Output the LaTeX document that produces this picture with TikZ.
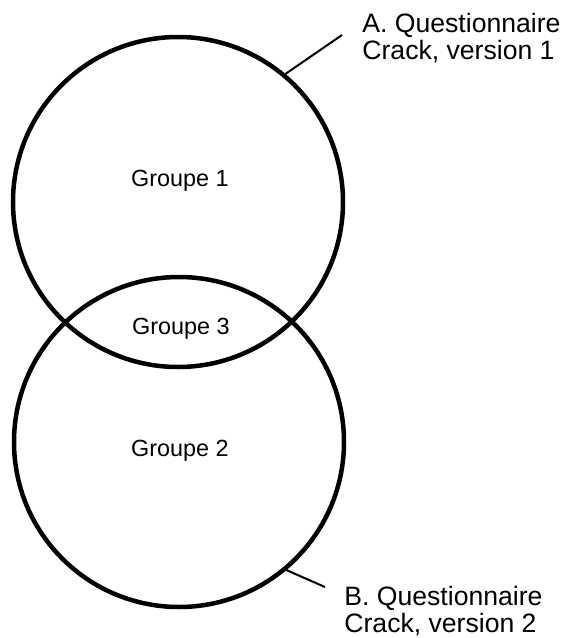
\documentclass[tikz,border=0pt]{standalone}
\usepackage{fontspec}
\setmainfont{Liberation Sans}
\usetikzlibrary{positioning}

\begin{document}
\begin{tikzpicture}[x=1pt,y=-1pt,thick]
  \tikzstyle{every node}=[text=black,inner sep=0pt]
  \tikzstyle{group circle}=[circle,draw=black,line width=4.5pt,minimum size=330pt]
  \tikzstyle{group text}=[anchor=base,font=\fontsize{23.4}{28}\selectfont]
  \tikzstyle{tag text}=[anchor=base west,align=left,font=\fontsize{26.6}{26.5}\selectfont]
  \tikzstyle{leader}=[line width=2pt]

  \useasboundingbox (0,0) rectangle (563,638);

  \node[group circle] (circA) at (178,202) {};
  \node[group circle] (circB) at (179,442) {};

  \node[group text] (grp1) at (180,186) {Groupe 1};
  \node[group text] (grp3) at (181,334) {Groupe 3};
  \node[group text] (grp2) at (180,456) {Groupe 2};

  \node[tag text] (tagA) at (362,59) {A. Questionnaire\\Crack, version 1};
  \node[tag text] (tagB) at (344,632) {B. Questionnaire\\Crack, version 2};

  \coordinate (tipA) at (342,35);
  \coordinate (tipB) at (325,587);

  \draw[leader] (circA.50) -- (tipA);
  \draw[leader] (circB.-50) -- (tipB);
\end{tikzpicture}
\end{document}
